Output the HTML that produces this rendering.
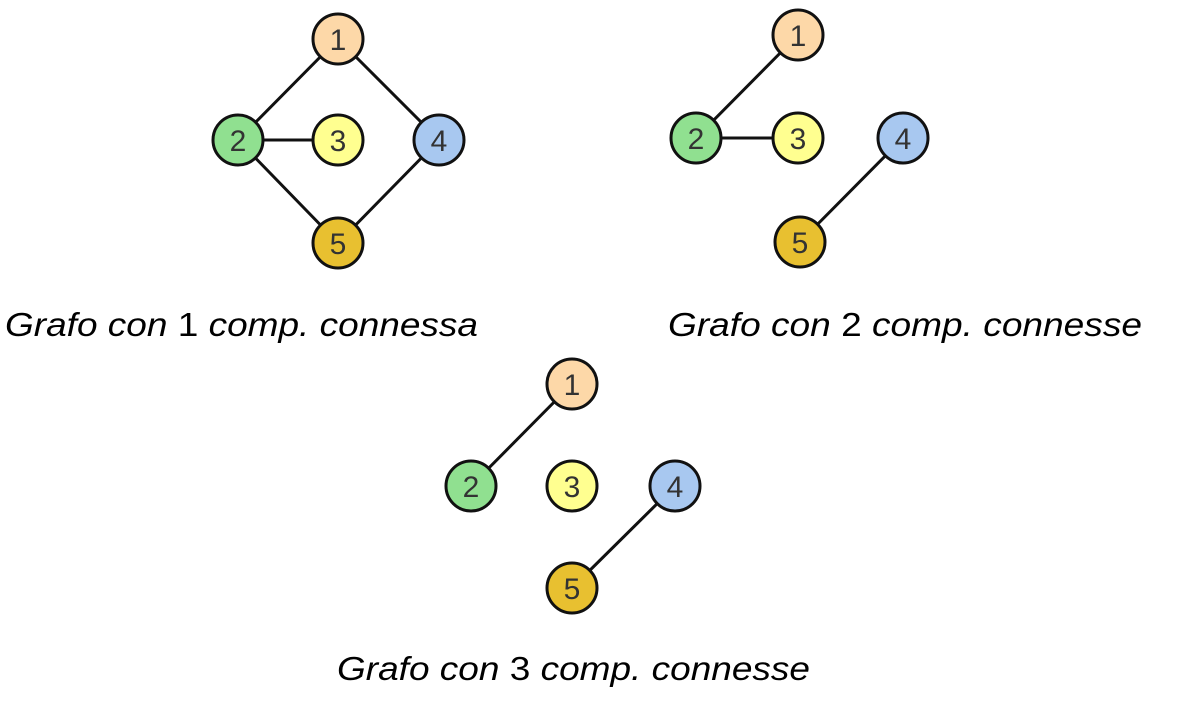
<!DOCTYPE html>
<html><head><meta charset="utf-8"><style>
html,body{margin:0;padding:0;background:#fff;}
svg{display:block;}
text{font-family:"Liberation Sans",sans-serif;}
</style></head><body>
<svg width="1179" height="708" viewBox="0 0 1179 708" xmlns="http://www.w3.org/2000/svg">
<g stroke="#111" stroke-width="3">
<line x1="338" y1="39" x2="238" y2="140"/><line x1="338" y1="39" x2="439" y2="140"/>
<line x1="238" y1="140" x2="338" y2="140"/><line x1="238" y1="140" x2="338" y2="243"/>
<line x1="439" y1="140" x2="338" y2="243"/>
<line x1="798" y1="35" x2="696" y2="138"/><line x1="696" y1="138" x2="798" y2="138"/>
<line x1="903" y1="138" x2="800" y2="242"/>
<line x1="572" y1="384" x2="471" y2="486"/><line x1="675" y1="486" x2="572" y2="588"/>
</g>
<g stroke="#111" stroke-width="3">
<circle cx="338" cy="39" r="25" fill="#fdd8a8"/><circle cx="238" cy="140" r="25" fill="#90e090"/>
<circle cx="338" cy="140" r="25" fill="#ffff90"/><circle cx="439" cy="140" r="25" fill="#a8c8f0"/>
<circle cx="338" cy="243" r="25" fill="#e8c030"/>
<circle cx="798" cy="35" r="25" fill="#fdd8a8"/><circle cx="696" cy="138" r="25" fill="#90e090"/>
<circle cx="798" cy="138" r="25" fill="#ffff90"/><circle cx="903" cy="138" r="25" fill="#a8c8f0"/>
<circle cx="800" cy="242" r="25" fill="#e8c030"/>
<circle cx="572" cy="384" r="25" fill="#fdd8a8"/><circle cx="471" cy="486" r="25" fill="#90e090"/>
<circle cx="572" cy="486" r="25" fill="#ffff90"/><circle cx="675" cy="486" r="25" fill="#a8c8f0"/>
<circle cx="572" cy="588" r="25" fill="#e8c030"/>
</g>
<g font-size="30" text-anchor="middle" fill="#333" style="font-family:'DejaVu Sans',sans-serif;font-weight:200">
<text x="338" y="50">1</text><text x="238" y="151">2</text><text x="338" y="151">3</text><text x="439" y="151">4</text><text x="338" y="254">5</text>
<text x="798" y="46">1</text><text x="696" y="149">2</text><text x="798" y="149">3</text><text x="903" y="149">4</text><text x="800" y="253">5</text>
<text x="572" y="395">1</text><text x="471" y="497">2</text><text x="572" y="497">3</text><text x="675" y="497">4</text><text x="572" y="599">5</text>
</g>
<g font-size="33" fill="#000">
<text x="5" y="336" textLength="473" lengthAdjust="spacingAndGlyphs"><tspan font-style="italic">Grafo con </tspan>1<tspan font-style="italic"> comp. connessa</tspan></text>
<text x="668" y="336" textLength="474" lengthAdjust="spacingAndGlyphs"><tspan font-style="italic">Grafo con </tspan>2<tspan font-style="italic"> comp. connesse</tspan></text>
<text x="337" y="680" textLength="473" lengthAdjust="spacingAndGlyphs"><tspan font-style="italic">Grafo con </tspan>3<tspan font-style="italic"> comp. connesse</tspan></text>
</g>
</svg>
</body></html>
